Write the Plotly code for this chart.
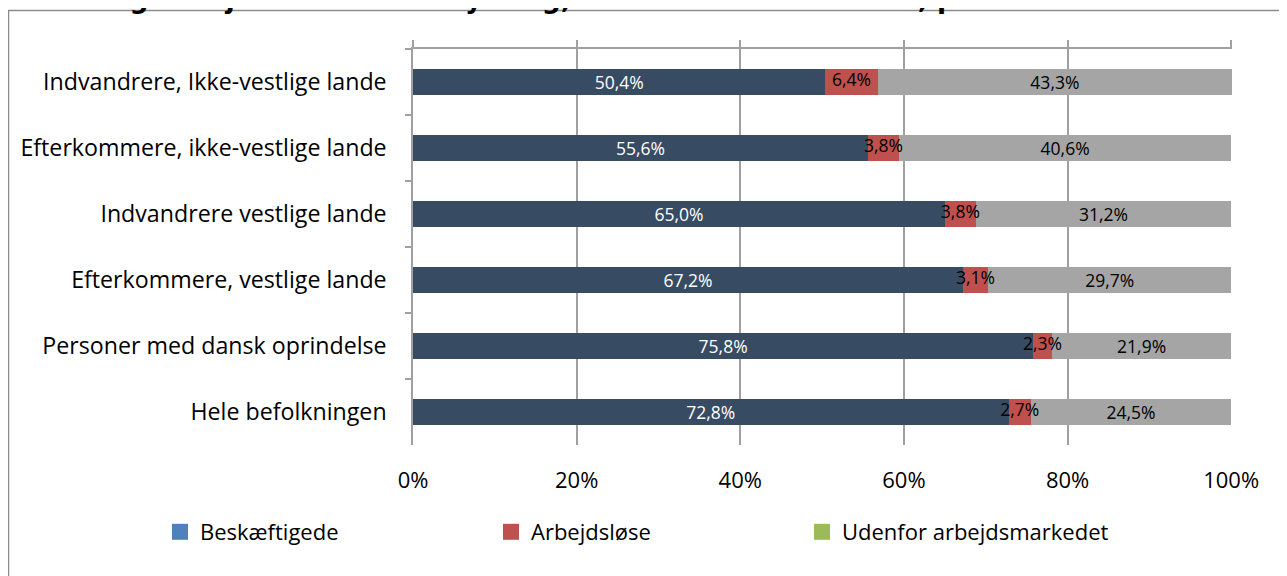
import plotly.graph_objects as go

categories = [
    "Indvandrere, Ikke-vestlige lande",
    "Efterkommere, ikke-vestlige lande",
    "Indvandrere vestlige lande",
    "Efterkommere, vestlige lande",
    "Personer med dansk oprindelse",
    "Hele befolkningen",
]
beskaeftigede = [50.4, 55.6, 65.0, 67.2, 75.8, 72.8]
arbejdsloese = [6.4, 3.8, 3.8, 3.1, 2.3, 2.7]
udenfor = [43.3, 40.6, 31.2, 29.7, 21.9, 24.5]
series_names = ["Beskæftigede", "Arbejdsløse", "Udenfor arbejdsmarkedet"]
bar_colors = ["#374C62", "#C0504D", "#A5A5A5"]
legend_colors = ["#4F81BD", "#C0504D", "#9BBB59"]
label_colors = ["white", "black", "black"]
x_ticks = [0, 20, 40, 60, 80, 100]
x_ticklabels = ["0%", "20%", "40%", "60%", "80%", "100%"]
title_text = "komst og arbejdsmarkedstilknytning, ultimo november 2016, pct."

FONT = "Open Sans"
OFF = 8  # page body margin
W, H = 1287 - OFF, 576 - OFF
# plot area in page pixels: x 413..1232, y 49..445
L = 413 - OFF
R = W - (1232 - OFF)
T = 49 - OFF
B = H - (445 - OFF)
pw, ph = W - L - R, H - T - B


def px(x):
    return (x - OFF - L) / pw


def py(y):
    return (H - B - (y - OFF)) / ph


def fmt(v):
    return f"{v:.1f}".replace(".", ",") + "%"


XR = [0, 100.1]
GRID = "#A0A0A0"
LABEL_SIZE = 17.5

fig = go.Figure()
series = [beskaeftigede, arbejdsloese, udenfor]
for i, (name, vals, col, lc) in enumerate(zip(series_names, series, bar_colors, label_colors)):
    show_text = i != 1
    fig.add_trace(go.Bar(
        y=categories, x=vals, orientation="h", name=name,
        marker=dict(color=col, line=dict(width=0)),
        text=[fmt(v) for v in vals] if show_text else None,
        textposition="inside" if show_text else "none", textangle=0,
        insidetextanchor="middle", constraintext="none",
        textfont=dict(family=FONT, size=LABEL_SIZE, color=lc),
        showlegend=False, cliponaxis=False,
    ))

# labels of the narrow red segments, drawn above all bars
red_centers = [b + a / 2 for b, a in zip(beskaeftigede, arbejdsloese)]
fig.add_trace(go.Scatter(
    x=red_centers, y=categories, mode="text", text=[fmt(v) for v in arbejdsloese],
    textposition="middle center", textfont=dict(family=FONT, size=LABEL_SIZE, color="black"),
    showlegend=False, hoverinfo="skip", cliponaxis=False,
))

legend_x = [183, 514, 825]
legend_ids = ["legend", "legend2", "legend3"]
for name, col, lid in zip(series_names, legend_colors, legend_ids):
    fig.add_trace(go.Scatter(
        x=[None], y=[None], mode="markers", name=name, legend=lid,
        marker=dict(symbol="square", size=16, color=col),
    ))
# invisible trace for the top axis
fig.add_trace(go.Scatter(x=[None], y=[None], xaxis="x2", showlegend=False, hoverinfo="skip"))

legend_common = dict(orientation="h", yanchor="middle", y=py(532),
                     font=dict(size=22, family=FONT, color="black"),
                     bgcolor="rgba(0,0,0,0)", xanchor="left")
layout_legends = {}
for lid, lx in zip(legend_ids, legend_x):
    layout_legends[lid] = dict(legend_common, x=px(lx - 23))

fig.update_layout(
    width=W, height=H, barmode="stack", bargap=0.6,
    margin=dict(l=L, r=R, t=T, b=B),
    plot_bgcolor="white", paper_bgcolor="white",
    font=dict(family=FONT, size=22, color="black"),
    xaxis=dict(range=XR, tickvals=x_ticks, ticktext=x_ticklabels,
               showgrid=True, gridcolor=GRID, gridwidth=1.5,
               zeroline=False, showline=False, ticks="",
               ticklabelstandoff=20, tickfont=dict(size=22, family=FONT)),
    xaxis2=dict(range=XR, overlaying="x", side="top", tickvals=x_ticks,
                showticklabels=False, showgrid=False, zeroline=False,
                showline=True, linecolor=GRID, linewidth=1.5,
                ticks="outside", ticklen=7, tickcolor=GRID, tickwidth=1.5),
    yaxis=dict(autorange="reversed", type="category", showgrid=False,
               showline=True, linecolor=GRID, linewidth=1.5,
               ticks="outside", tickson="boundaries", ticklen=6,
               tickcolor=GRID, tickwidth=1.5,
               ticklabelstandoff=20, tickfont=dict(size=23.2, family=FONT)),
    shapes=[
        dict(type="rect", xref="paper", yref="paper", x0=px(8.5), x1=px(1300),
             y0=py(600), y1=py(10.5), line=dict(color="#8C8C8C", width=1.5),
             fillcolor="rgba(0,0,0,0)", layer="below"),
    ],
    annotations=[
        dict(text=title_text, xref="paper", yref="paper", x=px(9), y=py(-1),
             xanchor="left", yanchor="middle", showarrow=False,
             font=dict(family="DejaVu Sans", size=26.5, color="black", weight="bold")),
    ],
    **layout_legends,
)
fig.write_html("out.html")
